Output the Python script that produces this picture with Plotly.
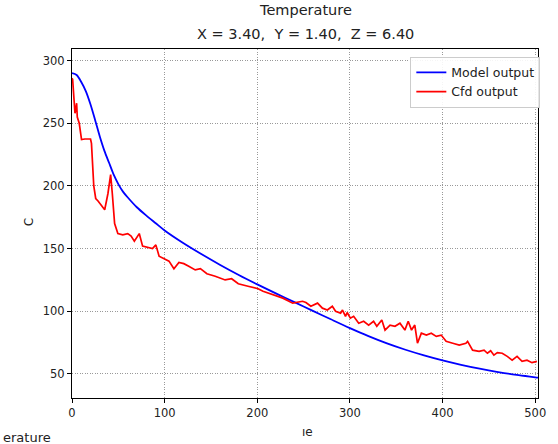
import plotly.graph_objects as go

# Model output (blue)
model_t = [0, 5, 10, 15, 20, 25, 30, 35, 40, 45, 50, 55, 60, 70, 80, 90, 100, 120, 140, 160, 180,
           200, 220, 240, 260, 280, 300, 320, 340, 360, 380, 400, 420, 440, 460, 480, 500, 503]
model_y = [290, 288.5, 283, 275.5, 265, 252.5, 239.5, 228, 218.5, 209, 201.5, 195.5, 191, 183, 176.5, 170.5,
           164.5, 154.5, 145.5, 137, 129, 121.5, 114.3, 107.3, 100.3, 93.4, 86.6, 80.2, 74.4, 69.3,
           64.8, 60.8, 57.3, 54.2, 51.5, 49.2, 47.3, 47]

# Cfd output (red)
cfd_t = [0, 0.7, 3.2, 5, 5.7, 7.8, 10.3, 13.9, 20, 21, 23.5, 25.6, 28.1, 31.7, 35.3, 38.8, 41.7, 43.5,
         46, 49.5, 54.8, 60.2, 63.8, 67.3, 72.6, 76.2, 86.9, 90.5, 94, 104.7, 110, 115.4, 120.7, 126,
         133, 138.6, 145.6, 154.6, 165.3, 172.3, 179.5, 190, 200.9, 206.2, 216.9, 227.6, 238.2, 248.9,
         252.5, 257.8, 265, 270.3, 275.6, 281, 284.5, 289.9, 292, 295.2, 297, 300.5, 304, 309.5, 314.8,
         320.2, 325.5, 329, 334.4, 337.9, 343.3, 348.6, 354, 359.3, 362.9, 366.5, 370, 372.9, 377.1,
         382.5, 387.8, 393.2, 398.5, 403.8, 411, 418, 425.2, 427, 432.4, 439.4, 444.8, 448.4, 451.9,
         455.4, 459.1, 464.4, 469.8, 475.1, 480.4, 485.8, 491.1, 496.5, 501.8]
cfd_y = [286, 285, 258, 266, 255, 250, 237, 237.5, 237.5, 234, 200, 190, 188, 184, 181, 194, 209, 194,
         170, 162, 161, 162, 160, 156, 162, 152, 150, 153, 144, 140, 134, 139, 138, 136,
         133, 134, 130, 128, 125, 126, 122, 120, 118, 116, 113, 110.5, 106.5, 108,
         107, 104, 106.5, 102.5, 101, 104, 100, 98.5, 101, 96, 99, 94.5, 96, 90.5, 92,
         89, 92, 88, 93, 85, 89, 88, 90.5, 85, 92, 85, 89, 74.5, 82.5,
         81, 82.5, 80, 81, 76, 74.5, 73, 74.5, 76, 69, 68, 69, 66.5, 68.5,
         65, 67, 66.5, 64, 61, 64, 60, 61, 59, 60]

x_ticks = [0, 100, 200, 300, 400, 500]
y_ticks = [50, 100, 150, 200, 250, 300]

fig = go.Figure()
fig.add_trace(go.Scatter(x=model_t, y=model_y, mode="lines", name="Model output",
                         line=dict(color="#0000ff", width=1.8, shape="spline", smoothing=0.8)))
fig.add_trace(go.Scatter(x=cfd_t, y=cfd_y, mode="lines", name="Cfd output",
                         line=dict(color="#ff0000", width=1.7)))

axis_common = dict(showline=True, mirror=True, linecolor="#000", linewidth=1,
                   ticks="outside", ticklen=4, tickcolor="#000", tickwidth=1,
                   showgrid=True, gridcolor="#999", griddash="1px,1.5px", gridwidth=1,
                   zeroline=False, tickfont=dict(family="DejaVu Sans", size=11.5, color="#222"))

fig.update_layout(
    width=558, height=444,
    margin=dict(l=72, r=15, t=49, b=46),
    plot_bgcolor="white", paper_bgcolor="white",
    showlegend=True,
    legend=dict(x=1.005, y=0.978, xanchor="right", yanchor="top",
                bgcolor="rgba(255,255,255,0.9)", bordercolor="#ccc", borderwidth=1,
                font=dict(family="DejaVu Sans", size=12.5, color="#222"),
                tracegroupgap=0, itemwidth=30),
    xaxis=dict(range=[0, 503], tickvals=x_ticks, **axis_common),
    yaxis=dict(range=[30.8, 309.3], tickvals=y_ticks, **axis_common),
    annotations=[
        dict(text="Temperature", xref="paper", yref="paper", x=0.5, y=1.113,
             xanchor="center", yanchor="middle", showarrow=False,
             font=dict(family="DejaVu Sans", size=14.5, color="#222")),
        dict(text="X = 3.40,  Y = 1.40,  Z = 6.40", xref="paper", yref="paper", x=0.5, y=1.044,
             xanchor="center", yanchor="middle", showarrow=False,
             font=dict(family="DejaVu Sans", size=14.5, color="#222")),
        dict(text="C", xref="paper", yref="paper", x=-0.0934, y=0.505, textangle=-90,
             xanchor="center", yanchor="middle", showarrow=False,
             font=dict(family="DejaVu Sans", size=12, color="#222")),
        dict(text="ıe", xref="paper", yref="paper", x=0.505, y=-0.0975,
             xanchor="center", yanchor="middle", showarrow=False,
             font=dict(family="DejaVu Sans", size=12, color="#222")),
        dict(text="erature", xref="paper", yref="paper", x=-0.153, y=-0.112,
             xanchor="left", yanchor="middle", showarrow=False,
             font=dict(family="DejaVu Sans", size=13, color="#222")),
    ],
)

fig.write_html("out.html")
